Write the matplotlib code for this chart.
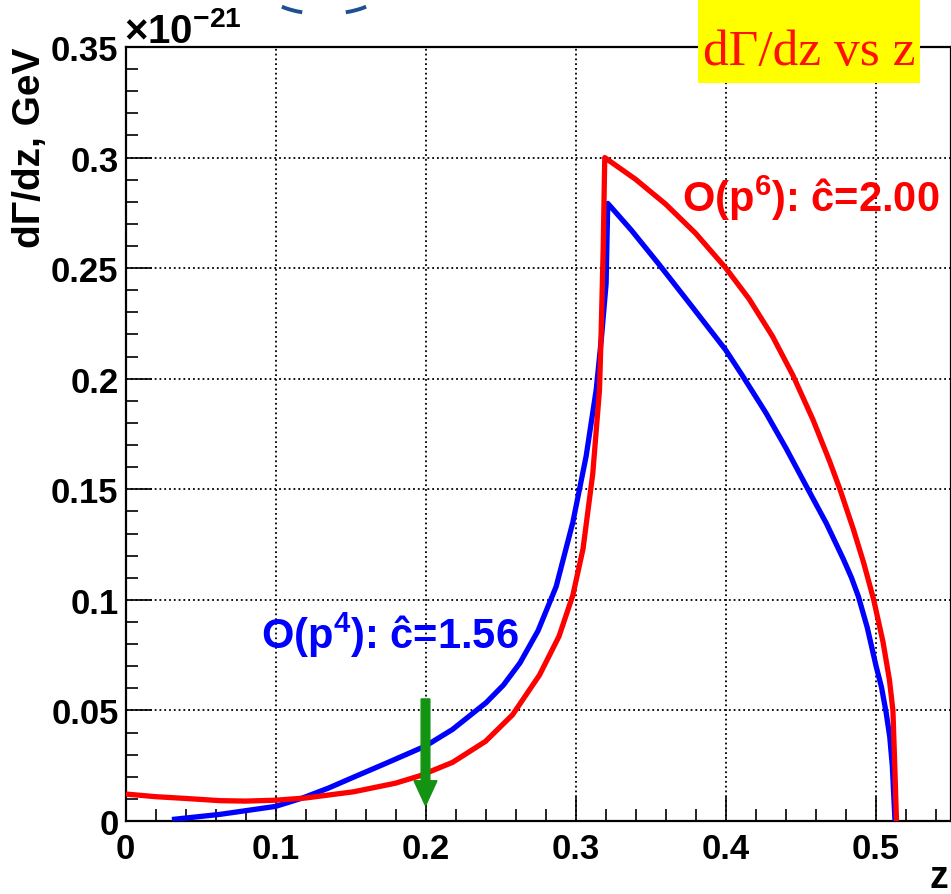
import matplotlib
matplotlib.use("Agg")
import matplotlib.pyplot as plt
from matplotlib.patches import Rectangle, Arc
from matplotlib.transforms import IdentityTransform
from matplotlib.ticker import MultipleLocator, FuncFormatter

# dGamma/dz spectra, in units of 1e-21 GeV
z_p6 = [0.0, 0.02, 0.04, 0.063, 0.08, 0.1, 0.12, 0.152, 0.18, 0.196, 0.218, 0.24,
        0.258, 0.276, 0.289, 0.2982, 0.305, 0.3115, 0.316, 0.317, 0.3185, 0.3195,
        0.34, 0.36, 0.38, 0.4, 0.4157, 0.4314, 0.4449, 0.4583, 0.4695,
        0.4763, 0.4852, 0.492, 0.4987, 0.505, 0.5093, 0.5116, 0.5127, 0.514]
g_p6 = [0.0122, 0.011, 0.0102, 0.0092, 0.009, 0.0094, 0.0104, 0.0132, 0.0171, 0.0204,
        0.0265, 0.036, 0.048, 0.066, 0.0835, 0.102, 0.123, 0.157, 0.195, 0.218, 0.26,
        0.300, 0.2902, 0.279, 0.2658, 0.2502, 0.2361, 0.2191, 0.2016, 0.1815, 0.1625,
        0.150, 0.132, 0.117, 0.1003, 0.081, 0.0638, 0.050, 0.028, 0.0]

z_p4 = [0.0327, 0.063, 0.1, 0.118, 0.135, 0.152, 0.174, 0.2, 0.218, 0.2404, 0.252,
        0.263, 0.275, 0.2871, 0.2982, 0.3071, 0.3138, 0.3175, 0.3204, 0.3215, 0.3372,
        0.3551, 0.3776, 0.4, 0.4112, 0.4269, 0.4404, 0.4538, 0.4673, 0.4785, 0.484,
        0.4886, 0.4945, 0.5004, 0.504, 0.5071, 0.5095, 0.5112, 0.513]
g_p4 = [0.0008, 0.003, 0.0066, 0.0104, 0.0148, 0.0198, 0.0262, 0.0339, 0.0414, 0.0535,
        0.0615, 0.0715, 0.086, 0.106, 0.135, 0.165, 0.195, 0.22, 0.243, 0.2793, 0.2672,
        0.2522, 0.2327, 0.2131, 0.2015, 0.1846, 0.1685, 0.1515, 0.1345, 0.1185, 0.110,
        0.1015, 0.0875, 0.070, 0.0605, 0.049, 0.038, 0.025, 0.0]

label_p4 = "O(p$^{4}$): ĉ=1.56"
label_p6 = "O(p$^{6}$): ĉ=2.00"

# marker arrow at z = 0.2
arrow_z = 0.2
arrow_top = 0.0552
arrow_tip = 0.0069

plt.rcParams['font.family'] = ['Liberation Sans', 'DejaVu Sans']
plt.rcParams['font.weight'] = 'bold'
plt.rcParams['mathtext.fontset'] = 'custom'
plt.rcParams['mathtext.rm'] = 'Liberation Sans:bold'
plt.rcParams['mathtext.it'] = 'Liberation Sans:bold'
plt.rcParams['mathtext.bf'] = 'Liberation Sans:bold'
plt.rcParams['mathtext.default'] = 'rm'

W, H = 951, 895
fig = plt.figure(figsize=(W / 100, H / 100), dpi=100)
ax = fig.add_axes([125.5 / W, (H - 822) / H, 825 / W, (822 - 48) / H])

ax.plot(z_p4, g_p4, color='#0000ff', lw=3.8, zorder=3)
ax.plot(z_p6, g_p6, color='#ff0000', lw=3.8, zorder=4)

ax.arrow(arrow_z, arrow_top, 0, arrow_tip - arrow_top, width=0.0058,
         head_width=0.0153, head_length=0.0113, length_includes_head=True,
         color='#129312', zorder=5)

ax.text(0.0905, 0.0845, label_p4, color='#0000ff', fontsize=30,
        fontweight='bold', va='center', ha='left', zorder=6)
ax.text(0.371, 0.282, label_p6, color='#ff0000', fontsize=30,
        fontweight='bold', va='center', ha='left', zorder=6)

ax.set_xlim(0, 0.55)
ax.set_ylim(0, 0.35)
ax.xaxis.set_major_locator(MultipleLocator(0.1))
ax.xaxis.set_minor_locator(MultipleLocator(0.02))
ax.yaxis.set_major_locator(MultipleLocator(0.05))
ax.yaxis.set_minor_locator(MultipleLocator(0.01))
ax.xaxis.set_major_formatter(FuncFormatter(lambda v, p: f"{v:g}"))
ax.yaxis.set_major_formatter(FuncFormatter(lambda v, p: f"{v:g}"))

ax.tick_params(axis='both', which='both', direction='in', width=1.2,
               top=False, right=False, labelsize=25)
ax.tick_params(axis='y', which='major', length=19, pad=5)
ax.tick_params(axis='x', which='major', length=17, pad=8)
ax.tick_params(axis='both', which='minor', length=8.5)
for lab in ax.get_xticklabels() + ax.get_yticklabels():
    lab.set_fontweight('bold')

ax.grid(True, which='major', color='black', linestyle=':', linewidth=1.3)
ax.set_axisbelow(True)
for s in ax.spines.values():
    s.set_linewidth(1.6)

ax.set_ylabel("dΓ/dz, GeV", fontsize=28, fontweight='bold', loc='top')
ax.yaxis.set_label_coords(-0.094, 1.0)

fig.text(948 / W, (H - 878) / H, "z", fontsize=27, fontweight='bold',
         ha='right', va='center')
fig.text(124 / W, (H - 43) / H, r"$\times$10$^{-21}$", fontsize=29,
         ha='left', va='baseline')

# title box
fig.add_artist(Rectangle((698 / W, (H - 84) / H), 222 / W, 90 / H,
                         facecolor='#ffff00', edgecolor='none',
                         transform=fig.transFigure, zorder=5))
fig.text(809 / W, (H - 65) / H, "dΓ/dz vs z", family='Liberation Serif',
         fontweight='normal', fontsize=37, color='#ff1000', ha='center',
         va='baseline', zorder=6)

# bracket fragments at the top edge
for t1, t2 in [(201, 225), (315, 339)]:
    fig.add_artist(Arc((324, 903.5), 116, 47, theta1=t1, theta2=t2,
                       transform=IdentityTransform(), color='#1d4f91', lw=2.8))

fig.savefig("out.png", dpi=100)
